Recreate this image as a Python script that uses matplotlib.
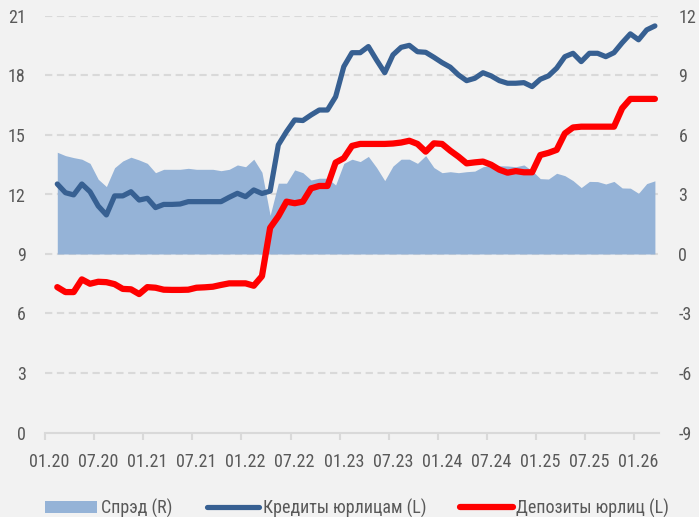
import matplotlib
matplotlib.use("Agg")
import matplotlib.pyplot as plt
import matplotlib.font_manager as fm
from matplotlib.ticker import FixedLocator
import numpy as np

# ---------------- data ----------------
tick_labels = ['01.20', '07.20', '01.21', '07.21', '01.22', '07.22', '01.23',
               '07.23', '01.24', '07.24', '01.25', '07.25', '01.26']
n_categories = 75          # monthly categories 01.20 ... 03.26
first_data_index = 1       # data start at 02.20

spread = [5.13, 4.96, 4.86, 4.78, 4.57, 3.77, 3.40, 4.35, 4.69, 4.88,
          4.74, 4.57, 4.10, 4.27, 4.27, 4.27, 4.32, 4.27, 4.27, 4.27,
          4.20, 4.27, 4.49, 4.40, 4.78, 4.12, 1.95, 3.57, 3.57, 4.24,
          4.10, 3.73, 3.82, 3.82, 3.48, 4.57, 4.78, 4.66, 4.92, 4.36,
          3.70, 4.43, 4.78, 4.78, 4.57, 4.96, 4.36, 4.10, 4.15, 4.10,
          4.15, 4.18, 4.40, 4.47, 4.45, 4.44, 4.40, 4.49, 4.20, 3.80,
          3.78, 4.07, 3.95, 3.70, 3.35, 3.66, 3.65, 3.53, 3.66, 3.33,
          3.32, 3.06, 3.55, 3.69]

credits = [12.53, 12.09, 11.98, 12.53, 12.14, 11.42, 10.97, 11.93, 11.93, 12.14,
           11.72, 11.81, 11.34, 11.50, 11.50, 11.52, 11.64, 11.64, 11.64, 11.64,
           11.64, 11.86, 12.06, 11.89, 12.23, 12.05, 12.17, 14.50, 15.17, 15.76,
           15.73, 16.01, 16.26, 16.26, 16.93, 18.45, 19.15, 19.15, 19.46, 18.78,
           18.14, 19.04, 19.42, 19.52, 19.20, 19.17, 18.92, 18.65, 18.42, 18.03,
           17.74, 17.86, 18.14, 17.98, 17.74, 17.61, 17.61, 17.64, 17.44, 17.81,
           17.98, 18.37, 18.95, 19.12, 18.70, 19.12, 19.12, 18.95, 19.15, 19.65,
           20.10, 19.80, 20.30, 20.50]

deposits = [7.33, 7.08, 7.08, 7.72, 7.50, 7.60, 7.58, 7.48, 7.24, 7.22,
            6.98, 7.33, 7.30, 7.20, 7.19, 7.19, 7.20, 7.30, 7.32, 7.35,
            7.44, 7.52, 7.52, 7.52, 7.40, 7.88, 10.32, 10.90, 11.64, 11.56,
            11.64, 12.31, 12.43, 12.43, 13.61, 13.83, 14.45, 14.55, 14.55, 14.55,
            14.55, 14.57, 14.62, 14.71, 14.55, 14.16, 14.58, 14.55, 14.21, 13.91,
            13.57, 13.62, 13.66, 13.50, 13.25, 13.10, 13.18, 13.12, 13.12, 13.99,
            14.10, 14.25, 15.08, 15.38, 15.42, 15.42, 15.42, 15.42, 15.42, 16.35,
            16.82, 16.82, 16.82, 16.82]

labels = ['Спрэд (R)', 'Кредиты юрлицам (L)', 'Депозиты юрлиц (L)']

# ---------------- style ----------------
names = {f.name for f in fm.fontManager.ttflist}
family = 'DejaVu Sans'
for cand in ['Roboto Condensed', 'Liberation Sans Narrow', 'DejaVu Sans Condensed',
             'Open Sans Condensed', 'Noto Sans Condensed']:
    if cand in names:
        family = cand
        break
plt.rcParams['font.family'] = [family, 'DejaVu Sans']

BG = '#F2F2F2'
TXT = '#595959'
GRID = '#D9D9D9'
AREA = '#95B3D7'
BLUE = '#376092'
RED = '#FF0000'
FS = 13

fig = plt.figure(figsize=(6.99, 5.17), dpi=100, facecolor=BG)
ax = fig.add_axes([45 / 699, 84.5 / 517, 614 / 699, 416.5 / 517])
ax2 = ax.twinx()
ax.set_zorder(2)
ax2.set_zorder(1)
ax.patch.set_visible(False)
ax2.patch.set_facecolor(BG)

x = np.arange(first_data_index, first_data_index + len(credits))

# right axis: spread area + grid
ax2.fill_between(x, 0, spread, color=AREA, linewidth=0, zorder=2)
ax2.set_ylim(-9, 12)
ax2.set_yticks(np.arange(-9, 13, 3))
ax2.set_yticklabels([str(v).replace('\u2212', '-') for v in range(-9, 13, 3)])
for yv in range(-6, 13, 3):
    ax2.axhline(yv, color=GRID, linewidth=1.5, linestyle=(0, (3.5, 2.2)), zorder=1)

# left axis: lines
ax.plot(x, credits, color=BLUE, linewidth=3.75, solid_capstyle='round',
        solid_joinstyle='round', zorder=3)
ax.plot(x, deposits, color=RED, linewidth=4.5, solid_capstyle='round',
        solid_joinstyle='round', zorder=4)
ax.set_ylim(0, 21)
ax.set_yticks(np.arange(0, 22, 3))
ax.set_xlim(-0.5, n_categories - 0.5)

ax.set_xticks(np.arange(0, len(tick_labels) * 6, 6))
ax.set_xticklabels(tick_labels)
ax.xaxis.set_minor_locator(FixedLocator(np.arange(len(tick_labels)) * 6 - 0.5))

for a in (ax, ax2):
    for s in a.spines.values():
        s.set_visible(False)
ax.spines['bottom'].set_visible(True)
ax.spines['bottom'].set_color(GRID)
ax.spines['bottom'].set_linewidth(1.5)

ax.tick_params(axis='x', which='major', length=0, pad=15, labelsize=FS, labelcolor=TXT)
ax.tick_params(axis='x', which='minor', length=5, width=1.5, color=GRID, direction='out')
ax.tick_params(axis='y', length=0, pad=14, labelsize=FS, labelcolor=TXT)
ax2.tick_params(axis='y', length=0, pad=14, labelsize=FS, labelcolor=TXT)
ax2.tick_params(axis='x', bottom=False, labelbottom=False)

# legend
from matplotlib.patches import Patch
from matplotlib.lines import Line2D
handles = [Patch(facecolor=AREA, edgecolor='none'),
           Line2D([], [], color=BLUE, linewidth=3.75, solid_capstyle='round'),
           Line2D([], [], color=RED, linewidth=4.5, solid_capstyle='round')]
fig.legend(handles, labels, loc='center left', bbox_to_anchor=(45 / 699, 9 / 517),
           ncol=3, frameon=False, fontsize=FS, labelcolor=TXT, handlelength=2.9,
           handleheight=0.6, handletextpad=0.2, columnspacing=1.9, borderpad=0,
           borderaxespad=0)

fig.savefig('out.png', dpi=100, facecolor=BG)
